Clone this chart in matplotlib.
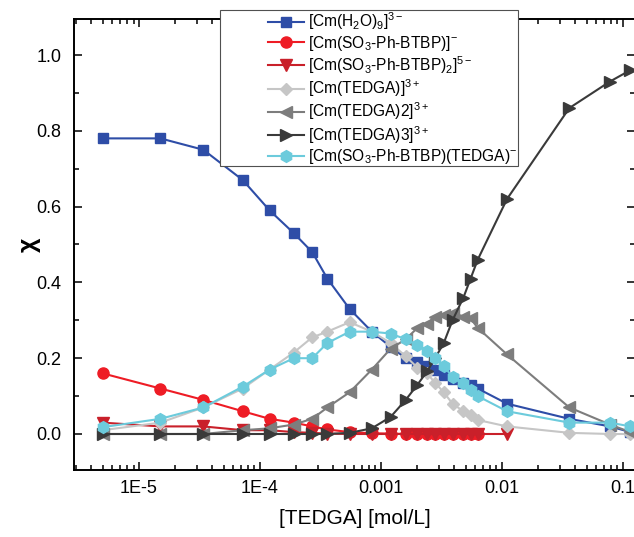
import matplotlib
matplotlib.use('Agg')
import matplotlib.pyplot as plt
from matplotlib.patches import Rectangle
from matplotlib.ticker import LogLocator, MultipleLocator, FixedLocator, FixedFormatter, NullFormatter

plt.rcParams['font.family'] = ['Liberation Sans', 'DejaVu Sans']
plt.rcParams['mathtext.fontset'] = 'custom'
plt.rcParams['mathtext.rm'] = 'Liberation Sans'
plt.rcParams['mathtext.it'] = 'Liberation Sans:italic'
plt.rcParams['mathtext.bf'] = 'Liberation Sans:bold'
plt.rcParams['mathtext.default'] = 'regular'

# [TEDGA] concentrations (mol/L)
tedga = [5.0e-6, 1.5e-5, 3.4e-5, 7.2e-5, 1.2e-4, 1.9e-4, 2.7e-4, 3.6e-4,
         5.5e-4, 8.4e-4, 1.2e-3, 1.6e-3, 2.0e-3, 2.4e-3, 2.8e-3, 3.3e-3,
         3.9e-3, 4.8e-3, 5.5e-3, 6.3e-3, 1.1e-2, 3.6e-2, 7.8e-2, 0.115]

cm_h2o = [0.78, 0.78, 0.75, 0.67, 0.59, 0.53, 0.48, 0.41, 0.33, 0.27, 0.23, 0.20,
          0.19, 0.18, 0.17, 0.155, 0.145, 0.135, 0.13, 0.12, 0.08, 0.04, 0.02, 0.005]
cm_btbp = [0.16, 0.12, 0.09, 0.06, 0.04, 0.03, 0.02, 0.012, 0.005, 0.002, 0.001, 0.0,
           0.0, 0.0, 0.0, 0.0, 0.0, 0.0, 0.0, 0.0]
cm_btbp2 = [0.03, 0.02, 0.02, 0.01, 0.01, 0.005, 0.003, 0.001, 0.0, 0.0, 0.0, 0.0,
            0.0, 0.0, 0.0, 0.0, 0.0, 0.0, 0.0, 0.0, 0.0]
cm_tedga = [0.01, 0.03, 0.07, 0.12, 0.17, 0.215, 0.255, 0.27, 0.295, 0.27, 0.24, 0.205,
            0.175, 0.16, 0.135, 0.11, 0.08, 0.06, 0.05, 0.037, 0.02, 0.003, 0.0, 0.0]
cm_tedga2 = [0.0, 0.0, 0.0, 0.01, 0.015, 0.025, 0.04, 0.07, 0.11, 0.17, 0.225, 0.25,
             0.28, 0.29, 0.31, 0.315, 0.32, 0.31, 0.305, 0.28, 0.21, 0.07, 0.025, 0.005]
cm_tedga3 = [0.0, 0.0, 0.0, 0.0, 0.0, 0.0, 0.0, 0.0, 0.003, 0.015, 0.045, 0.09,
             0.13, 0.165, 0.2, 0.24, 0.3, 0.36, 0.41, 0.46, 0.62, 0.86, 0.93, 0.96]
cm_mixed = [0.018, 0.04, 0.07, 0.125, 0.17, 0.2, 0.2, 0.24, 0.27, 0.27, 0.265, 0.25,
            0.235, 0.22, 0.2, 0.18, 0.15, 0.135, 0.115, 0.1, 0.06, 0.03, 0.03, 0.02]

labels = [r'[Cm(H$_2$O)$_9$]$^{3-}$',
          r'[Cm(SO$_3$-Ph-BTBP)]$^{-}$',
          r'[Cm(SO$_3$-Ph-BTBP)$_2$]$^{5-}$',
          r'[Cm(TEDGA)]$^{3+}$',
          r'[Cm(TEDGA)2]$^{3+}$',
          r'[Cm(TEDGA)3]$^{3+}$',
          r'[Cm(SO$_3$-Ph-BTBP)(TEDGA)$^{-}$']

fig = plt.figure(figsize=(6.34, 5.37), dpi=100)
ax = fig.add_axes([74 / 634, 1 - 470 / 537, 561 / 634, 451 / 537])

lw = 1.5
ax.plot(tedga, cm_h2o, '-s', color='#2E4DA7', lw=lw, ms=7, label=labels[0])
ax.plot(tedga[:20], cm_btbp, '-o', color='#EE1C25', lw=lw, ms=8, label=labels[1])
ax.plot(tedga[:21], cm_btbp2, '-v', color='#C9202A', lw=lw, ms=8, label=labels[2])
ax.plot(tedga, cm_tedga, '-D', color='#C6C6C6', lw=lw, ms=6.5, label=labels[3])
ax.plot(tedga, cm_tedga2, '-<', color='#7D7D7D', lw=lw, ms=8.5, label=labels[4])
ax.plot(tedga, cm_tedga3, '->', color='#3A3A3A', lw=lw, ms=8.5, label=labels[5])
ax.plot(tedga, cm_mixed, '-h', color='#6CCBDC', lw=lw, ms=8.5, label=labels[6])

ax.set_xscale('log')
ax.set_xlim(2.9e-6, 0.1257)
ax.set_ylim(-0.095, 1.095)

ax.xaxis.set_major_locator(FixedLocator([1e-5, 1e-4, 1e-3, 1e-2, 1e-1]))
ax.xaxis.set_major_formatter(FixedFormatter(['1E-5', '1E-4', '0.001', '0.01', '0.1']))
ax.xaxis.set_minor_locator(LogLocator(base=10, subs=range(2, 10), numticks=20))
ax.xaxis.set_minor_formatter(NullFormatter())
ax.yaxis.set_major_locator(MultipleLocator(0.2))
ax.yaxis.set_minor_locator(MultipleLocator(0.1))
ax.yaxis.set_major_formatter(plt.FuncFormatter(lambda v, p: f'{v:.1f}'))

ax.tick_params(which='both', direction='in', top=True, right=True, width=1.1,
               labelsize=13)
ax.tick_params(axis='y', pad=9)
ax.tick_params(axis='x', pad=7)
ax.tick_params(which='major', length=6)
ax.tick_params(which='minor', length=3.5)
for s in ax.spines.values():
    s.set_linewidth(1.4)

ax.set_xlabel('[TEDGA] [mol/L]', fontsize=15, labelpad=9)
ax.set_ylabel('χ', fontsize=18, fontweight='bold', labelpad=-3)

# legend box
fig.patches.append(Rectangle((220 / 634, 1 - 166 / 537), 298 / 634, 156 / 537,
                             transform=fig.transFigure, facecolor='white',
                             edgecolor='#505050', lw=0.8, zorder=5))
handles, labs = ax.get_legend_handles_labels()
leg = fig.legend(handles, labs, loc='upper left',
                 bbox_to_anchor=(259 / 634, 1 - 1 / 537),
                 frameon=False, fontsize=11.2, borderpad=0.1,
                 handlelength=2.3, handletextpad=0.25, labelspacing=0.1)
leg.set_zorder(6)

fig.savefig('out.png', dpi=100)
